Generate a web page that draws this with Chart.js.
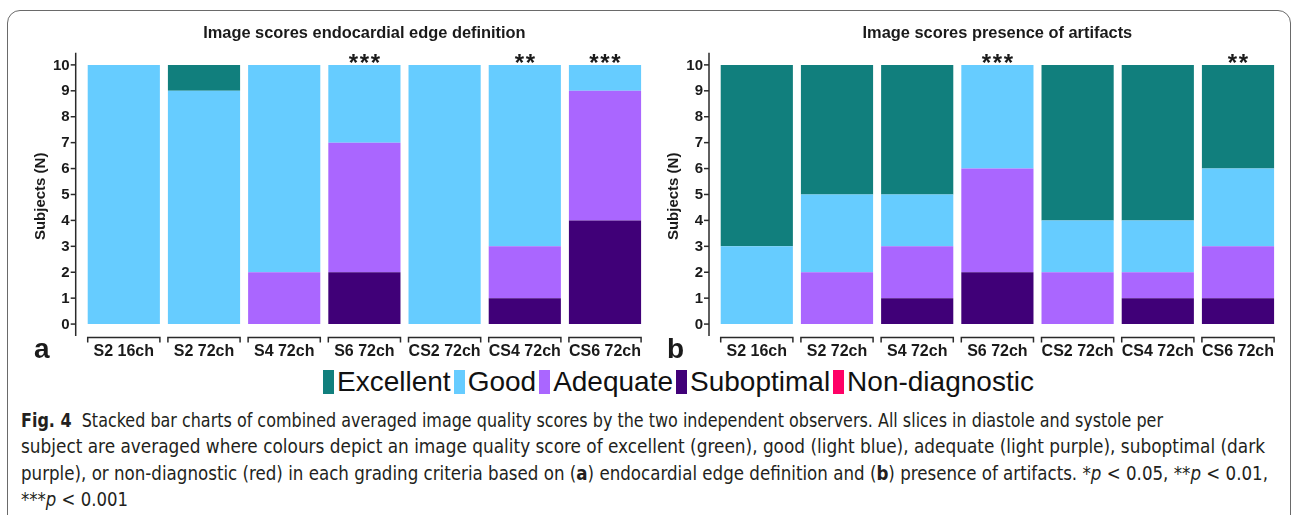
<!DOCTYPE html>
<html>
<head>
<meta charset="utf-8">
<script src="https://cdn.jsdelivr.net/npm/chart.js@4.4.1/dist/chart.umd.min.js"></script>
<style>
  html, body { margin: 0; padding: 0; background: #fff; }
  body { width: 1295px; height: 515px; position: relative; overflow: hidden; font-family: 'Liberation Sans', Arial, sans-serif; }
  .frame { position: absolute; left: 7px; top: 10px; width: 1284px; height: 560px; border: 1.5px solid #6a6a6a; border-radius: 13px; box-sizing: border-box; }
  canvas { position: absolute; top: 0; }
  #chartA { left: 0; }
  #chartB { left: 655px; }
  .legend { position: absolute; left: 323px; top: 366px; display: flex; align-items: center; white-space: nowrap; font-size: 28px; color: #111; }
  .legend .item { display: flex; align-items: center; margin-right: 3px; }
  .legend .sw { display: inline-block; width: 11px; height: 24px; margin-right: 3px; }
  .caption { position: absolute; left: 21px; top: 407px; font-family: 'Liberation Sans Narrow', 'DejaVu Sans Condensed', 'Liberation Sans', sans-serif; font-size: 19px; color: #231f20; line-height: 26.3px; }
  .caption .ln { display: inline-block; white-space: nowrap; transform-origin: 0 50%; }
  .caption b { font-weight: bold; }
</style>
</head>
<body>
<div class="frame"></div>
<canvas id="chartA" width="655" height="365"></canvas>
<canvas id="chartB" width="640" height="365"></canvas>
<div class="legend" id="legend"></div>
<div class="caption">
  <span class="ln"><b>Fig. 4</b>&nbsp; Stacked bar charts of combined averaged image quality scores by the two independent observers. All slices in diastole and systole per</span><br>
  <span class="ln">subject are averaged where colours depict an image quality score of excellent (green), good (light blue), adequate (light purple), suboptimal (dark</span><br>
  <span class="ln">purple), or non-diagnostic (red) in each grading criteria based on (<b>a</b>) endocardial edge definition and (<b>b</b>) presence of artifacts. *<i>p</i> &lt; 0.05, **<i>p</i> &lt; 0.01,</span><br>
  <span class="ln">***<i>p</i> &lt; 0.001</span>
</div>
<script>
// Categories shared by both panels
const categories = ['S2 16ch', 'S2 72ch', 'S4 72ch', 'S6 72ch', 'CS2 72ch', 'CS4 72ch', 'CS6 72ch'];
const yTickValues = [0, 1, 2, 3, 4, 5, 6, 7, 8, 9, 10];

// Score classes (legend order) and their colours
const scoreNames = ['Excellent', 'Good', 'Adequate', 'Suboptimal', 'Non-diagnostic'];
const scoreColors = ['#117f7d', '#66ccff', '#aa66ff', '#400078', '#ff0066'];

// Panel a: endocardial edge definition (number of subjects per score)
const edgeExcellent     = [0, 1, 0, 0, 0, 0, 0];
const edgeGood          = [10, 9, 8, 3, 10, 7, 1];
const edgeAdequate      = [0, 0, 2, 5, 0, 2, 5];
const edgeSuboptimal    = [0, 0, 0, 2, 0, 1, 4];
const edgeNonDiagnostic = [0, 0, 0, 0, 0, 0, 0];
const edgeSignificance  = ['', '', '', '***', '', '**', '***'];

// Panel b: presence of artifacts (number of subjects per score)
const artExcellent      = [7, 5, 5, 0, 6, 6, 4];
const artGood           = [3, 3, 2, 4, 2, 2, 3];
const artAdequate       = [0, 2, 2, 4, 2, 1, 2];
const artSuboptimal     = [0, 0, 1, 2, 0, 1, 1];
const artNonDiagnostic  = [0, 0, 0, 0, 0, 0, 0];
const artSignificance   = ['', '', '', '***', '', '', '**'];

const FONT = "'Liberation Sans', Arial, sans-serif";
const INK = '#1a1a1a';

// Stack from the worst score at the bottom to the best at the top
function buildDatasets(exc, good, adq, sub, nd) {
  const byScore = [exc, good, adq, sub, nd];
  const order = [4, 3, 2, 1, 0];
  return order.map(i => ({
    label: scoreNames[i],
    data: byScore[i],
    backgroundColor: scoreColors[i],
    borderWidth: 0,
    barPercentage: 0.9,
    categoryPercentage: 1.0
  }));
}

// Draws title, axis, brackets, category labels, significance marks and panel letter
function panelDecor(opts) {
  return {
    id: 'panelDecor',
    afterDraw(chart) {
      const ctx = chart.ctx;
      const x = chart.scales.x, y = chart.scales.y;
      const area = chart.chartArea;
      const axisX = area.left - opts.axisGap;
      const yTop = area.top, yBot = area.bottom;
      ctx.save();
      ctx.fillStyle = INK;
      ctx.strokeStyle = '#2a2a2a';

      // title
      ctx.font = 'bold 16.4px ' + FONT;
      ctx.textAlign = 'center';
      ctx.textBaseline = 'middle';
      ctx.fillText(opts.title, (area.left + area.right) / 2, 33);

      // y axis line and ticks
      ctx.lineWidth = 1.5;
      ctx.beginPath();
      ctx.moveTo(axisX, yTop);
      ctx.lineTo(axisX, yBot);
      ctx.stroke();
      ctx.font = 'bold 15px ' + FONT;
      ctx.textAlign = 'right';
      yTickValues.forEach(v => {
        const py = y.getPixelForValue(v);
        ctx.beginPath();
        ctx.moveTo(axisX - 5, py);
        ctx.lineTo(axisX, py);
        ctx.stroke();
        ctx.fillText(String(v), axisX - 6, py + 0.5);
      });

      // y axis title
      ctx.save();
      ctx.translate(opts.yTitleX, (yTop + yBot) / 2 + 2);
      ctx.rotate(-Math.PI / 2);
      ctx.textAlign = 'center';
      ctx.font = 'bold 15px ' + FONT;
      ctx.fillText('Subjects (N)', 0, 0);
      ctx.restore();

      // category brackets and labels
      const meta = chart.getDatasetMeta(0);
      categories.forEach((c, i) => {
        const bar = meta.data[i];
        const cx = x.getPixelForValue(i);
        const half = bar.width / 2;
        const by = yBot + 1.5;
        ctx.lineWidth = 1.5;
        ctx.beginPath();
        ctx.moveTo(cx - half, by + 5);
        ctx.lineTo(cx - half, by);
        ctx.lineTo(cx + half, by);
        ctx.lineTo(cx + half, by + 5);
        ctx.stroke();
        ctx.font = 'bold 16px ' + FONT;
        ctx.textAlign = 'center';
        ctx.fillText(c, cx, 352);
      });

      // significance asterisks above the bars
      ctx.font = 'bold 24px ' + FONT;
      ctx.textAlign = 'center';
      opts.stars.forEach((s, i) => {
        if (!s) return;
        const cx = x.getPixelForValue(i);
        const py = y.getPixelForValue(10) - 1;
        const pitch = 11;
        for (let k = 0; k < s.length; k++) {
          const sx = cx + (k - (s.length - 1) / 2) * pitch;
          ctx.fillText('*', sx, py);
        }
      });

      // panel letter
      ctx.font = 'bold 28px ' + FONT;
      ctx.textAlign = 'left';
      ctx.fillText(opts.letter, opts.letterX, 350);
      ctx.restore();
    }
  };
}

function makeChart(id, datasets, padding, decor) {
  return new Chart(document.getElementById(id), {
    type: 'bar',
    data: { labels: categories, datasets },
    options: {
      responsive: false,
      animation: false,
      layout: { padding },
      scales: {
        x: { display: false, stacked: true },
        y: { display: false, stacked: true, min: -0.46, max: 10.47 }
      },
      plugins: { legend: { display: false }, tooltip: { enabled: false }, title: { display: false } }
    },
    plugins: [panelDecor(decor)]
  });
}

makeChart('chartA',
  buildDatasets(edgeExcellent, edgeGood, edgeAdequate, edgeSuboptimal, edgeNonDiagnostic),
  { left: 83.7, right: 9.9, top: 52.7, bottom: 29 },
  { title: 'Image scores endocardial edge definition', stars: edgeSignificance, axisGap: 8, yTitleX: 41, letter: 'a', letterX: 34 });

makeChart('chartB',
  buildDatasets(artExcellent, artGood, artAdequate, artSuboptimal, artNonDiagnostic),
  { left: 61.7, right: 16.9, top: 52.7, bottom: 29 },
  { title: 'Image scores presence of artifacts', stars: artSignificance, axisGap: 7.7, yTitleX: 19, letter: 'b', letterX: 12 });

// Legend
const legend = document.getElementById('legend');
scoreNames.forEach((n, i) => {
  const item = document.createElement('span');
  item.className = 'item';
  const sw = document.createElement('span');
  sw.className = 'sw';
  sw.style.background = scoreColors[i];
  item.appendChild(sw);
  item.appendChild(document.createTextNode(n));
  legend.appendChild(item);
});

// Fit caption lines to their column widths
const lines = document.querySelectorAll('.caption .ln');
const targets = [1142, 1244, 1247];
let sum = 0;
targets.forEach((t, i) => {
  const s = t / lines[i].getBoundingClientRect().width;
  sum += s;
  lines[i].style.transform = 'scaleX(' + s + ')';
});
lines[3].style.transform = 'scaleX(' + (sum / targets.length) + ')';
</script>
</body>
</html>
